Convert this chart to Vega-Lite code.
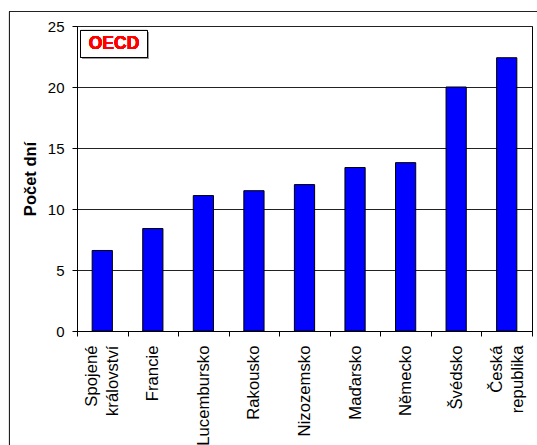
{
  "$schema": "https://vega.github.io/schema/vega-lite/v6.json",
  "width": 455,
  "height": 305,
  "autosize": "none",
  "padding": {"left": 77, "top": 26, "right": 5, "bottom": 114},
  "background": "white",
  "config": {
    "font": "Liberation Sans",
    "view": {"stroke": "#000", "strokeWidth": 1}
  },
  "data": {
    "values": [
      {"zeme": "Spojené království", "dni": 6.6},
      {"zeme": "Francie", "dni": 8.4},
      {"zeme": "Lucembursko", "dni": 11.1},
      {"zeme": "Rakousko", "dni": 11.5},
      {"zeme": "Nizozemsko", "dni": 12.0},
      {"zeme": "Maďarsko", "dni": 13.4},
      {"zeme": "Německo", "dni": 13.8},
      {"zeme": "Švédsko", "dni": 20.0},
      {"zeme": "Česká republika", "dni": 22.4}
    ]
  },
  "layer": [
    {
      "mark": {"type": "bar", "fill": "#0000FF", "stroke": "#000", "strokeWidth": 1, "width": {"band": 0.4}},
      "encoding": {
        "x": {
          "field": "zeme",
          "type": "nominal",
          "sort": null,
          "scale": {"paddingInner": 0, "paddingOuter": 0},
          "axis": {
            "title": null,
            "tickBand": "extent",
            "labelAngle": -90,
            "labelAlign": "right",
            "labelBaseline": "middle",
            "labelExpr": "split(datum.label, ' ')",
            "labelOffset": {"condition": {"test": "indexof(datum.label, ' ') >= 0", "value": -10.5}, "value": 0},
            "labelLineHeight": 21,
            "labelFontSize": 16.7,
            "labelColor": "#000",
            "labelPadding": 9,
            "tickSize": 5,
            "tickColor": "#000",
            "domainColor": "#000",
            "labelOverlap": false,
            "labelLimit": 0
          }
        },
        "y": {
          "field": "dni",
          "type": "quantitative",
          "scale": {"domain": [0, 25], "nice": false},
          "axis": {
            "title": "Počet dní",
            "titleFontSize": 16.5,
            "titleFontWeight": "bold",
            "titleColor": "#000",
            "titlePadding": 9,
            "values": [0, 5, 10, 15, 20, 25],
            "labelFontSize": 15,
            "labelColor": "#000",
            "labelPadding": 8,
            "tickSize": 5,
            "tickColor": "#000",
            "domainColor": "#000",
            "gridColor": "#222",
            "gridOpacity": 1
          }
        }
      }
    },
    {
      "description": "outer chart frame",
      "mark": {"type": "point", "shape": "M-1,-0.8435H1V0.8435H-1Z", "size": 309136, "filled": true, "fill": "transparent", "stroke": "#222", "strokeWidth": 1, "opacity": 1},
      "encoding": {
        "x": {"datum": "Nizozemsko", "bandPosition": 0.1637},
        "y": {"datum": 6.967}
      }
    },
    {
      "description": "legend box shadow",
      "mark": {"type": "point", "shape": "M-1,-0.403H1V0.403H-1Z", "size": 4489, "filled": true, "fill": "#9a9a9a", "strokeWidth": 0, "opacity": 1, "xOffset": 1.5, "yOffset": 1.5},
      "encoding": {
        "x": {"datum": "Spojené království", "bandPosition": 0.732},
        "y": {"datum": 23.525}
      }
    },
    {
      "description": "legend box",
      "mark": {"type": "point", "shape": "M-1,-0.403H1V0.403H-1Z", "size": 4489, "filled": true, "fill": "#fff", "stroke": "#000", "strokeWidth": 1, "opacity": 1},
      "encoding": {
        "x": {"datum": "Spojené království", "bandPosition": 0.732},
        "y": {"datum": 23.525}
      }
    },
    {
      "mark": {"type": "text", "text": "OECD", "font": "Liberation Sans", "fontSize": 17.5, "fontWeight": "bold", "color": "#FF0000", "align": "center", "baseline": "middle"},
      "encoding": {
        "x": {"datum": "Spojené království", "bandPosition": 0.732},
        "y": {"datum": 23.525}
      }
    }
  ]
}
